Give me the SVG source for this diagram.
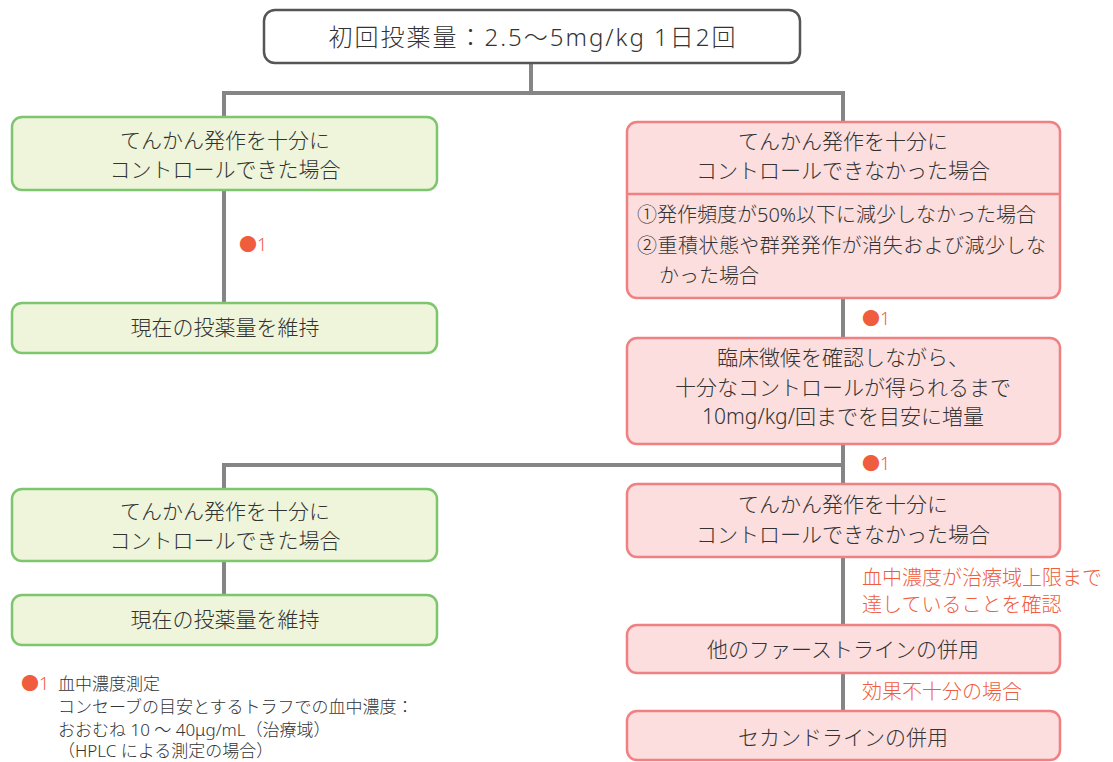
<svg xmlns="http://www.w3.org/2000/svg" width="1113" height="762" viewBox="0 0 1113 762">
<style>
text{font-family:"Noto Sans","Noto Sans CJK JP",sans-serif;fill:#333;font-weight:300;}
.t{font-size:21px;text-anchor:middle;}
.s{font-size:20px;}
.g rect{fill:#eef5da;stroke:#7dc66e;stroke-width:2.5;}
.r rect{fill:#fbdedd;stroke:#f08183;stroke-width:2.5;}
.c{fill:none;stroke:#858585;stroke-width:4;}
.o{fill:#f05d3e;}
.n{fill:#f05d3e;font-size:18px;}
.lg{font-size:17px;}
</style>
<g id="connectors">
<path class="c" d="M531 63V93M224 117V93H843V122"/>
<path class="c" d="M224 190V303"/>
<path class="c" d="M843 298V338"/>
<path class="c" d="M843 444V484M224 489V465H843"/>
<path class="c" d="M224 561V595"/>
<path class="c" d="M843 557V625"/>
<path class="c" d="M843 673V711"/>
</g>
<g id="n0"><rect x="264" y="10" width="536" height="53" rx="11" fill="#fff" stroke="#555" stroke-width="2.5"/>
<text x="533" y="46" style="font-size:24px;text-anchor:middle;letter-spacing:2px">初回投薬量：2.5～5mg/kg 1日2回</text></g>
<g id="n1" class="g"><rect x="12" y="117" width="425" height="73" rx="10"/>
<text class="t" x="225" y="148">てんかん発作を十分に</text>
<text class="t" x="225" y="177">コントロールできた場合</text></g>
<g id="m1"><text class="n" x="239" y="251">●1</text></g>
<g id="n2" class="g"><rect x="12" y="303" width="425" height="50" rx="10"/>
<text class="t" x="225" y="335">現在の投薬量を維持</text></g>
<g id="n3" class="r"><rect x="627" y="122" width="433" height="176" rx="10"/>
<line x1="627" y1="194" x2="1060" y2="194" stroke="#f08183" stroke-width="2.5"/>
<text class="t" x="843" y="149">てんかん発作を十分に</text>
<text class="t" x="843" y="178">コントロールできなかった場合</text>
<text class="s" x="637" y="222">①発作頻度が50%以下に減少しなかった場合</text>
<text class="s" x="637" y="253" textLength="409" lengthAdjust="spacing">②重積状態や群発発作が消失および減少しな</text>
<text class="s" x="659" y="283">かった場合</text></g>
<g id="m2"><text class="n" x="862" y="325">●1</text></g>
<g id="n4" class="r"><rect x="627" y="338" width="433" height="106" rx="10"/>
<text class="t" x="843" y="365">臨床徴候を確認しながら、</text>
<text class="t" x="843" y="395">十分なコントロールが得られるまで</text>
<text class="t" x="843" y="424">10mg/kg/回までを目安に増量</text></g>
<g id="m3"><text class="n" x="862" y="470">●1</text></g>
<g id="n5" class="g"><rect x="12" y="489" width="425" height="72" rx="10"/>
<text class="t" x="225" y="519">てんかん発作を十分に</text>
<text class="t" x="225" y="548">コントロールできた場合</text></g>
<g id="n6" class="g"><rect x="12" y="595" width="425" height="50" rx="10"/>
<text class="t" x="225" y="627">現在の投薬量を維持</text></g>
<g id="n7" class="r"><rect x="627" y="484" width="433" height="73" rx="10"/>
<text class="t" x="843" y="512">てんかん発作を十分に</text>
<text class="t" x="843" y="542">コントロールできなかった場合</text></g>
<g id="l1"><text class="s o" x="862" y="585">血中濃度が治療域上限まで</text>
<text class="s o" x="862" y="612">達していることを確認</text></g>
<g id="n8" class="r"><rect x="627" y="625" width="433" height="48" rx="10"/>
<text class="t" x="843" y="657">他のファーストラインの併用</text></g>
<g id="l2"><text class="s o" x="862" y="699">効果不十分の場合</text></g>
<g id="n9" class="r"><rect x="627" y="711" width="433" height="49" rx="10"/>
<text class="t" x="843" y="745">セカンドラインの併用</text></g>
<g id="legend">
<text class="n" x="21" y="690">●1</text>
<text class="lg" x="58" y="690">血中濃度測定</text>
<text class="lg" x="58" y="713">コンセーブの目安とするトラフでの血中濃度：</text>
<text class="lg" x="58" y="736">おおむね 10 ～ 40μg/mL（治療域）</text>
<text class="lg" x="58" y="757">（HPLC による測定の場合）</text>
</g>
</svg>
